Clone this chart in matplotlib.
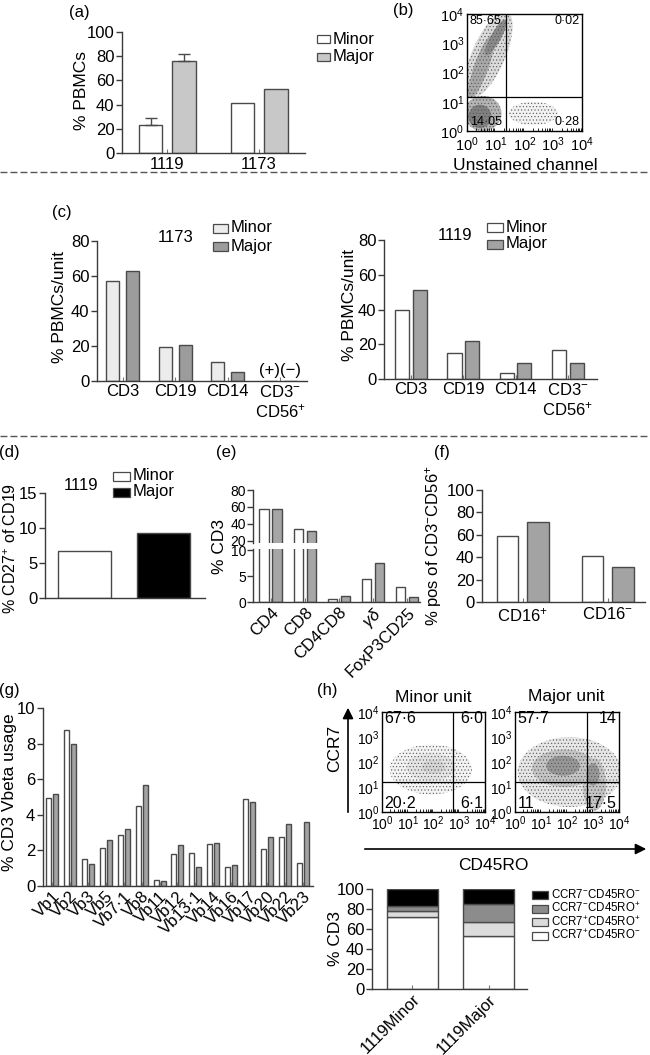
import numpy as np
import matplotlib.pyplot as plt
from matplotlib.patches import Ellipse, Rectangle, FancyArrowPatch
from matplotlib.lines import Line2D

plt.rcParams['font.family'] = ['Liberation Sans', 'DejaVu Sans']
plt.rcParams['mathtext.fontset'] = 'custom'
plt.rcParams['mathtext.rm'] = 'Liberation Sans'
plt.rcParams['mathtext.it'] = 'Liberation Sans:italic'
plt.rcParams['mathtext.bf'] = 'Liberation Sans:bold'
plt.rcParams['font.size'] = 12
plt.rcParams['hatch.linewidth'] = 0.4

# ---- (a) % PBMCs per unit ----
a_donors = ['1119', '1173']
a_minor = [23, 41]
a_minor_err = [6, 0]
a_major = [76, 53]
a_major_err = [6, 0]

# ---- (b) unstained control, quadrant % (UL, UR, LL, LR) ----
b_quads = ['85·65', '0·02', '14·05', '0·28']
b_gate = (1.35, 1.15)
# rough shape of the dot clouds (decades): cx, cy, width, height, angle, shade
b_clouds = [(0.75, 2.6, 3.2, 1.15, 66, '#dadada'),
            (0.5, 2.2, 2.3, 0.5, 70, '#a8a8a8'),
            (1.0, 3.2, 1.4, 0.35, 60, '#8a8a8a'),
            (2.3, 0.6, 1.7, 0.8, 0, '#f2f2f2'),
            (0.55, 0.6, 1.3, 1.2, 0, '#b4b4b4'),
            (0.45, 0.5, 0.8, 0.8, 0, '#808080')]

# ---- (c) lineage markers per unit ----
c_markers = ['CD3', 'CD19', 'CD14', 'CD3$^{-}$\nCD56$^{+}$']
c1173_minor = [57, 19.5, 11, 0]
c1173_major = [63, 20.5, 5, 0]
c1119_minor = [40, 15, 3.5, 16.5]
c1119_major = [51, 22, 9, 9]

# ---- (d) CD27+ of CD19 ----
d_minor = 6.7
d_major = 9.3

# ---- (e) T-cell subsets ----
e_subsets = ['CD4', 'CD8', 'CD4CD8', r'$\gamma\delta$', 'FoxP3CD25']
e_minor = [58, 34, 0.5, 4.4, 2.9]
e_major = [58, 32, 1.2, 7.5, 1.0]

# ---- (f) CD16 on NK ----
f_subsets = ['CD16$^{+}$', 'CD16$^{-}$']
f_minor = [59, 41]
f_major = [71, 31]

# ---- (g) Vbeta usage ----
g_vbeta = ['Vb1', 'Vb2', 'Vb3', 'Vb5', 'Vb7·1', 'Vb8', 'Vb11', 'Vb12', 'Vb13·1',
           'Vb14', 'Vb16', 'Vb17', 'Vb20', 'Vb22', 'Vb23']
g_minor = [4.92, 8.78, 1.5, 2.16, 2.85, 4.48, 0.32, 1.82, 1.86, 2.38, 1.09, 4.86, 2.1, 2.78, 1.28]
g_major = [5.16, 7.97, 1.24, 2.59, 3.23, 5.67, 0.26, 2.29, 1.09, 2.42, 1.2, 4.71, 2.78, 3.49, 3.62]

# ---- (h) CCR7 / CD45RO ----
h_minor_quads = ['67·6', '6·0', '20·2', '6·1']
h_major_quads = ['57·7', '14', '11', '17·5']
h_gate = (2.75, 1.2)
h_minor_clouds = [(1.9, 1.7, 3.2, 2.0, 0, '#f3f3f3'),
                  (1.9, 1.8, 1.9, 1.1, 0, '#e4e4e4'),
                  (2.0, 1.8, 0.9, 0.55, 0, '#d4d4d4')]
h_major_clouds = [(2.1, 1.6, 4.0, 2.8, 0, '#e6e6e6'),
                  (1.9, 1.75, 2.5, 1.5, 0, '#c4c4c4'),
                  (3.05, 1.1, 0.9, 2.1, 0, '#c4c4c4'),
                  (1.85, 1.85, 1.3, 0.8, 0, '#979797'),
                  (3.0, 1.5, 0.5, 0.9, 0, '#979797')]
h_units = ['1119Minor', '1119Major']
h_subsets = ['CCR7$^{+}$CD45RO$^{-}$', 'CCR7$^{+}$CD45RO$^{+}$',
             'CCR7$^{-}$CD45RO$^{+}$', 'CCR7$^{-}$CD45RO$^{-}$']
h_minor_stack = [72, 5.7, 5.6, 16.7]
h_major_stack = [53, 14.3, 17.7, 15]
h_colors = ['white', '#dcdcdc', '#8c8c8c', 'black']

AX = '#3a3a3a'
EDGE = '#4a4a4a'
W, H = 650, 1055
fig = plt.figure(figsize=(6.5, 10.55), dpi=100)


def box(x0, y0, x1, y1):
    # pixel box (top-left origin) -> axes
    return fig.add_axes([x0 / W, 1 - y1 / H, (x1 - x0) / W, (y1 - y0) / H])


def ftext(x, y, s, **kw):
    kw.setdefault('ha', 'center')
    kw.setdefault('va', 'center')
    fig.text(x / W, 1 - y / H, s, **kw)


def key(x, y, labels, colors, fs=12, dy=17, bw=14, bh=8):
    for i, (lab, col) in enumerate(zip(labels, colors)):
        yy = y + i * dy
        fig.add_artist(Rectangle((x / W, 1 - (yy + bh / 2) / H), bw / W, bh / H,
                                 transform=fig.transFigure, facecolor=col,
                                 edgecolor=EDGE, lw=0.9))
        ftext(x + bw + 3, yy, lab, fontsize=fs, ha='left')


def style(ax, fs=12):
    ax.spines[['top', 'right']].set_visible(False)
    for s in ['left', 'bottom']:
        ax.spines[s].set_color(AX)
        ax.spines[s].set_linewidth(1.0)
    ax.tick_params(axis='y', direction='out', length=4, width=1, color=AX,
                   labelsize=fs, pad=1.5)
    ax.tick_params(axis='x', direction='in', length=3, width=0.8, color='#777',
                   labelsize=fs, pad=3)


def pair(ax, minor, major, w, off, cmin, cmaj):
    x = np.arange(len(minor))
    ax.bar(x - off, minor, w, color=cmin, edgecolor=EDGE, lw=1)
    ax.bar(x + off, major, w, color=cmaj, edgecolor=EDGE, lw=1)
    return x


def flow(ax, clouds, gate, quads, fs, tfs=10.5):
    ax.set_xlim(0, 4)
    ax.set_ylim(0, 4)
    for cx, cy, w, h, ang, shade in clouds:
        ax.add_patch(Ellipse((cx, cy), w, h, angle=ang, facecolor=shade,
                             edgecolor='#555555', lw=0, hatch='.....'))
    ax.axvline(gate[0], color='k', lw=0.9)
    ax.axhline(gate[1], color='k', lw=0.9)
    labs = [f'$10^{{{k}}}$' for k in range(5)]
    ax.set_xticks(range(5), labs)
    ax.set_yticks(range(5), labs)
    minor = [d + np.log10(m) for d in range(4) for m in range(2, 10)]
    ax.set_xticks(minor, minor=True)
    ax.tick_params(which='both', direction='in', length=0, labelsize=tfs, pad=2)
    ax.tick_params(axis='x', which='minor', length=2, width=0.6)
    for s in ax.spines.values():
        s.set_linewidth(1.0)
        s.set_color('k')
    ax.text(0.1, 3.75, quads[0], fontsize=fs, ha='left', va='center')
    ax.text(3.92, 3.75, quads[1], fontsize=fs, ha='right', va='center')
    ax.text(0.1, 0.32, quads[2], fontsize=fs, ha='left', va='center')
    ax.text(3.92, 0.32, quads[3], fontsize=fs, ha='right', va='center')


# ---------- (a) ----------
ax = box(122, 32, 305, 153)
style(ax)
x = pair(ax, a_minor, a_major, 0.26, 0.18, 'white', '#c8c8c8')
ax.errorbar(x[:1] - 0.18, a_minor[:1], yerr=[[0], a_minor_err[:1]], fmt='none',
            ecolor=EDGE, elinewidth=1, capsize=4)
ax.errorbar(x[:1] + 0.18, a_major[:1], yerr=[[0], a_major_err[:1]], fmt='none',
            ecolor=EDGE, elinewidth=1, capsize=4)
ax.set_xticks(x, a_donors)
ax.set_xlim(-0.49, 1.5)
ax.set_ylim(0, 100)
ax.set_yticks(range(0, 101, 20))
ftext(81, 90, '% PBMCs', rotation=90, fontsize=12.5)
key(317, 39, ['Minor', 'Major'], ['white', '#c8c8c8'], dy=18, bw=13, bh=8)
ftext(79, 12, '(a)')

# ---------- (b) ----------
ax = box(467, 14, 582, 131)
flow(ax, b_clouds, b_gate, b_quads, 9)
ax.tick_params(axis='x', pad=3.5)
ftext(525, 165, 'Unstained channel', fontsize=12.5)
ftext(403, 10, '(b)')

# separators
for yy in (172, 436):
    fig.add_artist(Line2D([0, 1], [1 - yy / H] * 2, transform=fig.transFigure,
                          color='#555555', lw=1.0, ls=(0, (5, 2.2))))

# ---------- (c) left: 1173 ----------
ax = box(97, 241, 307, 381)
style(ax)
x = pair(ax, c1173_minor, c1173_major, 0.25, 0.19, '#ececec', '#9c9c9c')
ax.set_xticks(x, c_markers)
ax.tick_params(axis='x', pad=2)
ax.set_xlim(-0.486, 3.51)
ax.set_ylim(0, 80)
ax.set_yticks(range(0, 81, 20))
ax.text(3, 1.5, '(+)(\u2212)', ha='center', va='bottom', fontsize=12)
ftext(176, 238, '1173')
key(213, 228, ['Minor', 'Major'], ['#ececec', '#9c9c9c'], dy=18, bw=15, bh=9)
ftext(60, 307, '% PBMCs/unit', rotation=90, fontsize=12.5)
ftext(62, 212, '(c)')

# ---------- (c) right: 1119 ----------
ax = box(384, 240, 597, 379)
style(ax)
x = pair(ax, c1119_minor, c1119_major, 0.27, 0.17, 'white', '#a3a3a3')
ax.set_xticks(x, c_markers)
ax.tick_params(axis='x', pad=2)
ax.set_xlim(-0.52, 3.56)
ax.set_ylim(0, 80)
ax.set_yticks(range(0, 81, 20))
ftext(455, 236, '1119')
key(487, 227, ['Minor', 'Major'], ['white', '#a3a3a3'], dy=17, bw=16, bh=9)
ftext(349, 305, '% PBMCs/unit', rotation=90, fontsize=12.5)

# ---------- (d) ----------
ax = box(45, 493, 205, 598)
style(ax)
ax.bar([0, 1], [d_minor, d_major], 0.67, color=['white', 'black'], edgecolor=EDGE, lw=1)
ax.set_xticks([])
ax.set_xlim(-0.5, 1.52)
ax.set_ylim(0, 15)
ax.set_yticks([0, 5, 10, 15])
ftext(81, 486, '1119')
key(113, 476, ['Minor', 'Major'], ['white', 'black'], dy=16, bw=17, bh=9)
ftext(11, 548, '% CD27$^{+}$ of CD19', rotation=90, fontsize=11.5)
ftext(9, 453, '(d)')

# ---------- (e) broken axis ----------
ax_top = box(253, 490, 420, 543)
ax_bot = box(253, 549, 420, 602)
for a_ in (ax_top, ax_bot):
    style(a_, fs=10)
    pair(a_, e_minor, e_major, 0.28, 0.19, 'white', '#a6a6a6')
    a_.set_xlim(-0.52, 4.38)
ax_top.spines['bottom'].set_visible(False)
ax_top.set_xticks([])
ax_top.set_ylim(17.6, 80)
ax_top.set_yticks([20, 40, 60, 80])
ax_top.tick_params(axis='y', pad=1)
ax_bot.set_ylim(0, 10.2)
ax_bot.set_yticks([0, 5, 10])
ax_bot.tick_params(axis='y', pad=1)
ax_bot.set_xticks(range(len(e_subsets)), e_subsets, rotation=45, ha='right',
                  va='top', rotation_mode='anchor', fontsize=12)
ax_bot.tick_params(axis='x', pad=2)
ftext(219, 546, '% CD3', rotation=90, fontsize=12.5)
ftext(226, 453, '(e)')

# ---------- (f) ----------
ax = box(482, 490, 645, 602)
style(ax)
x = pair(ax, f_minor, f_major, 0.25, 0.18, 'white', '#a3a3a3')
ax.set_xticks(x, f_subsets)
ax.set_xlim(-0.48, 1.44)
ax.set_ylim(0, 100)
ax.set_yticks(range(0, 101, 20))
ftext(433, 546, '% pos of CD3$^{-}$CD56$^{+}$', rotation=90, fontsize=12)
ftext(442, 453, '(f)')

# ---------- (g) ----------
ax = box(43, 708, 313, 886)
style(ax)
x = pair(ax, g_minor, g_major, 0.28, 0.195, 'white', '#a3a3a3')
ax.set_xticks(x, g_vbeta, rotation=45, ha='right', va='top', rotation_mode='anchor')
ax.tick_params(axis='x', pad=2)
ax.set_xlim(-0.5, 14.56)
ax.set_ylim(0, 10)
ax.set_yticks(range(0, 11, 2))
ftext(10, 792, '% CD3 Vbeta usage', rotation=90, fontsize=12.5)
ftext(9, 691, '(g)')

# ---------- (h) flow plots ----------
ax = box(382, 712, 485, 812)
flow(ax, h_minor_clouds, h_gate, h_minor_quads, 11.5, tfs=10)
ftext(433, 697, 'Minor unit', fontsize=12.5)
ax = box(515, 712, 619, 812)
flow(ax, h_major_clouds, h_gate, h_major_quads, 11.5, tfs=10)
ftext(566, 697, 'Major unit', fontsize=12.5)
ftext(327, 691, '(h)')

fig.add_artist(FancyArrowPatch((348 / W, 1 - 815 / H), (348 / W, 1 - 705 / H),
                               transform=fig.transFigure, arrowstyle='-|>',
                               mutation_scale=16, color='black', lw=1.2))
ftext(335, 748, 'CCR7', rotation=90, fontsize=12.5)
fig.add_artist(FancyArrowPatch((362 / W, 1 - 849 / H), (649 / W, 1 - 849 / H),
                               transform=fig.transFigure, arrowstyle='-|>',
                               mutation_scale=16, color='black', lw=1.2))
ftext(493, 866, 'CD45RO', fontsize=12.5)

# ---------- (h) stacked bars ----------
ax = box(372, 889, 527, 989)
style(ax)
bottom = np.zeros(2)
for i, col in enumerate(h_colors):
    vals = np.array([h_minor_stack[i], h_major_stack[i]])
    ax.bar([0, 1], vals, 0.67, bottom=bottom, color=col, edgecolor=EDGE, lw=1)
    bottom += vals
ax.set_xticks([0, 1], h_units, rotation=45, ha='right', va='top', rotation_mode='anchor')
ax.tick_params(axis='x', pad=2)
ax.set_xlim(-0.53, 1.5)
ax.set_ylim(0, 100)
ax.set_yticks(range(0, 101, 20))
ftext(336, 939, '% CD3', rotation=90, fontsize=12.5)
key(532, 895, h_subsets[::-1], h_colors[::-1], fs=8.3, dy=13.5, bw=16, bh=8)

fig.savefig('out.png', dpi=100)
